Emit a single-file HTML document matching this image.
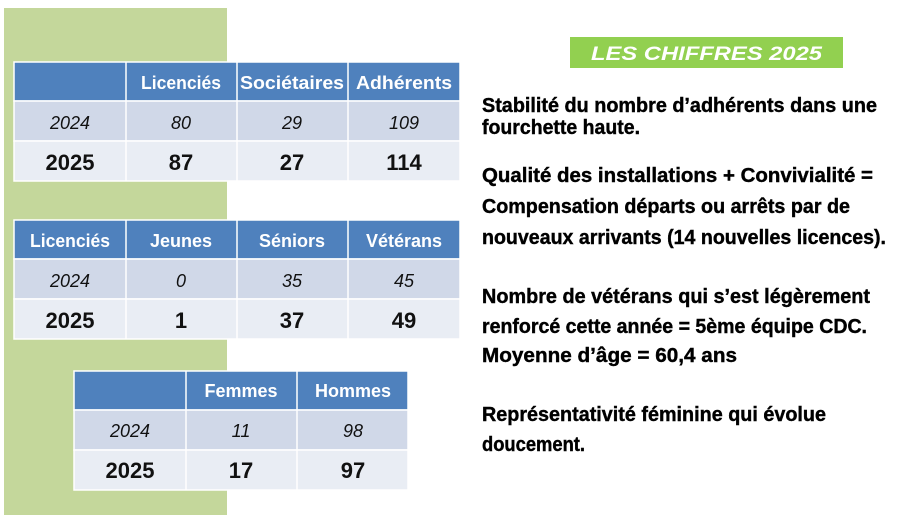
<!DOCTYPE html><html><head><meta charset="utf-8"><style>body{margin:0;background:#fff}svg{display:block}</style></head><body>
<svg width="902" height="520" xmlns="http://www.w3.org/2000/svg" font-family="Liberation Sans, sans-serif">
<rect x="0" y="0" width="902" height="520" fill="#fff"/>
<rect x="4" y="8" width="223" height="507" fill="#c4d79b"/>
<g stroke="#fff" stroke-width="1.5">
<rect x="14" y="62" width="446" height="39" fill="#4f81bd"/>
<rect x="14" y="101" width="446" height="40" fill="#d0d8e8"/>
<rect x="14" y="141" width="446" height="40" fill="#e9edf4"/>
<line x1="126" y1="62" x2="126" y2="181"/><line x1="237" y1="62" x2="237" y2="181"/><line x1="348" y1="62" x2="348" y2="181"/>
<rect x="14" y="220" width="446" height="39" fill="#4f81bd"/>
<rect x="14" y="259" width="446" height="40" fill="#d0d8e8"/>
<rect x="14" y="299" width="446" height="40" fill="#e9edf4"/>
<line x1="126" y1="220" x2="126" y2="339"/><line x1="237" y1="220" x2="237" y2="339"/><line x1="348" y1="220" x2="348" y2="339"/>
<rect x="74" y="371" width="334" height="39" fill="#4f81bd"/>
<rect x="74" y="410" width="334" height="40" fill="#d0d8e8"/>
<rect x="74" y="450" width="334" height="40" fill="#e9edf4"/>
<line x1="186" y1="371" x2="186" y2="490"/><line x1="297" y1="371" x2="297" y2="490"/>
</g>
<g text-anchor="middle" font-size="18">
<g fill="#fff" font-weight="bold">
<text x="181" y="89" textLength="80" lengthAdjust="spacingAndGlyphs">Licenciés</text><text x="292" y="89" textLength="104" lengthAdjust="spacingAndGlyphs">Sociétaires</text><text x="404" y="89" textLength="96" lengthAdjust="spacingAndGlyphs">Adhérents</text>
<text x="70" y="247" textLength="80" lengthAdjust="spacingAndGlyphs">Licenciés</text><text x="181" y="247">Jeunes</text><text x="292" y="247">Séniors</text><text x="404" y="247">Vétérans</text>
<text x="241" y="397">Femmes</text><text x="353" y="397">Hommes</text>
</g>
<g font-style="italic" fill="#111">
<text x="70" y="129">2024</text><text x="181" y="129">80</text><text x="292" y="129">29</text><text x="404" y="129">109</text>
<text x="70" y="287">2024</text><text x="181" y="287">0</text><text x="292" y="287">35</text><text x="404" y="287">45</text>
<text x="130" y="437">2024</text><text x="241" y="437">11</text><text x="353" y="437">98</text>
</g>
<g font-weight="bold" font-size="22" fill="#111">
<text x="70" y="170">2025</text><text x="181" y="170">87</text><text x="292" y="170">27</text><text x="404" y="170">114</text>
<text x="70" y="328">2025</text><text x="181" y="328">1</text><text x="292" y="328">37</text><text x="404" y="328">49</text>
<text x="130" y="478">2025</text><text x="241" y="478">17</text><text x="353" y="478">97</text>
</g>
</g>
<rect x="570" y="37" width="273" height="31" fill="#92d050"/>
<text x="591" y="60" fill="#fff" font-weight="bold" font-style="italic" font-size="19" textLength="231" lengthAdjust="spacingAndGlyphs">LES CHIFFRES 2025</text>
<g font-weight="bold" font-size="20" fill="#000" stroke="#000" stroke-width="0.4">
<text x="482" y="112" textLength="395" lengthAdjust="spacingAndGlyphs">Stabilité du nombre d’adhérents dans une</text>
<text x="482" y="134" textLength="158" lengthAdjust="spacingAndGlyphs">fourchette haute.</text>
<text x="482" y="182" textLength="391" lengthAdjust="spacingAndGlyphs">Qualité des installations + Convivialité =</text>
<text x="482" y="213" textLength="368" lengthAdjust="spacingAndGlyphs">Compensation départs ou arrêts par de</text>
<text x="482" y="244" textLength="404" lengthAdjust="spacingAndGlyphs">nouveaux arrivants (14 nouvelles licences).</text>
<text x="482" y="303" textLength="388" lengthAdjust="spacingAndGlyphs">Nombre de vétérans qui s’est légèrement</text>
<text x="482" y="333" textLength="385" lengthAdjust="spacingAndGlyphs">renforcé cette année = 5ème équipe CDC.</text>
<text x="482" y="362" textLength="255" lengthAdjust="spacingAndGlyphs">Moyenne d’âge = 60,4 ans</text>
<text x="482" y="421" textLength="344" lengthAdjust="spacingAndGlyphs">Représentativité féminine qui évolue</text>
<text x="482" y="451" textLength="103" lengthAdjust="spacingAndGlyphs">doucement.</text>
</g>
</svg>
</body></html>
